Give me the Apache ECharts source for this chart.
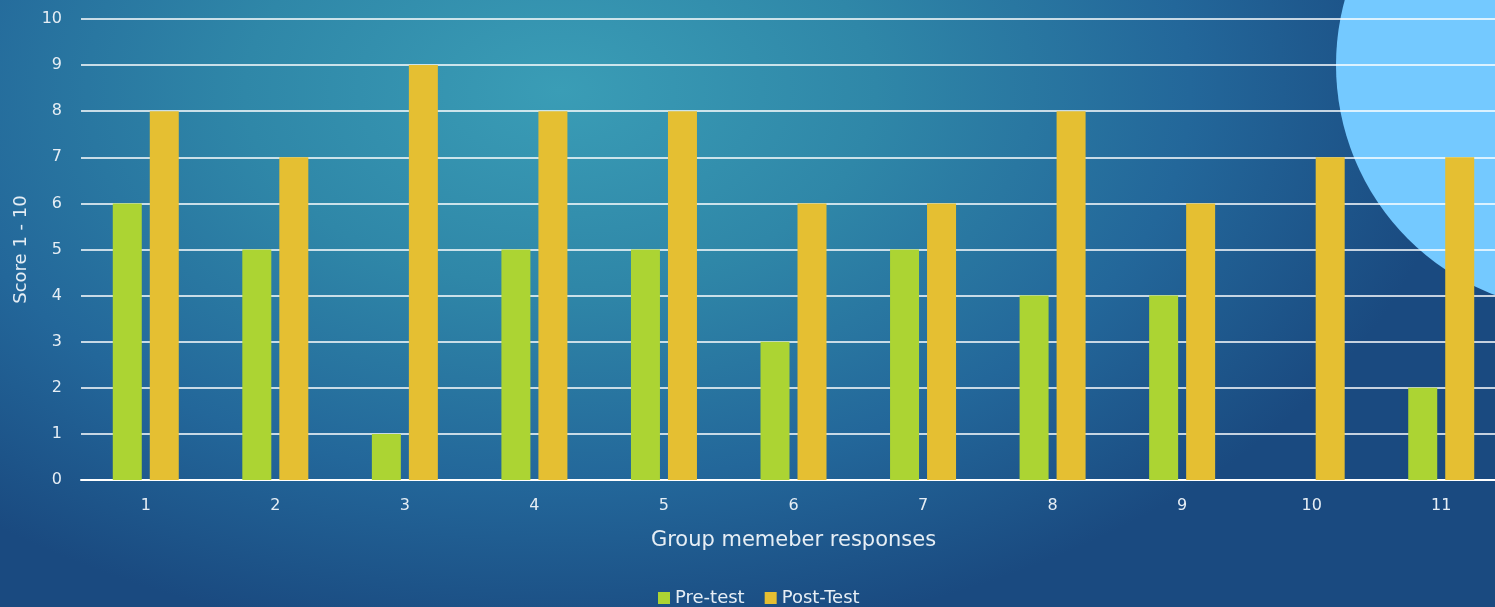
<!DOCTYPE html>
<html>
<head>
<meta charset="utf-8">
<script src="https://cdn.jsdelivr.net/npm/echarts@6/dist/echarts.min.js"></script>
<style>
  html, body { margin: 0; padding: 0; }
  body {
    width: 1495px; height: 607px; overflow: hidden;
    background: radial-gradient(ellipse 900px 560px at 560px 90px, #3a9db6 0%, #2f87a8 35%, #23679a 70%, #1a4a80 100%);
  }
  #chart { width: 1495px; height: 607px; }
</style>
</head>
<body>
<div id="chart"></div>
<script>
// Survey scores per group member, before and after
const categories = ['1', '2', '3', '4', '5', '6', '7', '8', '9', '10', '11'];
const preTest  = [6, 5, 1, 5, 5, 3, 5, 4, 4, 0, 2];
const postTest = [8, 7, 9, 8, 8, 6, 6, 8, 6, 7, 7];
const yTicks = { min: 0, max: 10, interval: 1 };

const font = '"DejaVu Sans", sans-serif';
const textColor = '#e6eef5';

const chart = echarts.init(document.getElementById('chart'), null, { renderer: 'canvas' });
chart.setOption({
  backgroundColor: 'transparent',
  animation: false,
  graphic: [{
    type: 'circle',
    z: -10,
    silent: true,
    shape: { cx: 1582, cy: 65, r: 246 },
    style: { fill: '#74c9ff' }
  }],
  grid: { left: 81, top: 19, right: -11, height: 461, containLabel: false, outerBoundsMode: 'none' },
  legend: {
    top: 584,
    left: 653,
    itemWidth: 12,
    itemHeight: 12,
    itemGap: 20,
    icon: 'rect',
    textStyle: { color: textColor, fontSize: 18, fontFamily: font },
    data: ['Pre-test', 'Post-Test']
  },
  xAxis: {
    type: 'category',
    data: categories,
    name: 'Group memeber responses',
    nameLocation: 'middle',
    nameGap: 50,
    nameTextStyle: { color: textColor, fontSize: 21, fontFamily: font },
    axisLine: { lineStyle: { color: '#ffffff', width: 2 } },
    axisTick: { show: false },
    axisLabel: { color: textColor, fontSize: 16, fontFamily: font, margin: 18 }
  },
  yAxis: {
    type: 'value',
    min: yTicks.min,
    max: yTicks.max,
    interval: yTicks.interval,
    name: 'Score 1 - 10',
    nameLocation: 'middle',
    nameGap: 50,
    nameRotate: 90,
    nameTextStyle: { color: textColor, fontSize: 18, fontFamily: font },
    axisLine: { show: false },
    axisTick: { show: false },
    axisLabel: { color: textColor, fontSize: 16, fontFamily: font, margin: 19 },
    splitLine: { lineStyle: { color: '#ffffff', width: 1.5 } }
  },
  series: [
    {
      name: 'Pre-test',
      type: 'bar',
      data: preTest,
      barWidth: 29,
      barGap: '27.6%',
      itemStyle: { color: '#acd433' }
    },
    {
      name: 'Post-Test',
      type: 'bar',
      data: postTest,
      barWidth: 29,
      itemStyle: { color: '#e5bf32' }
    }
  ]
});
</script>
</body>
</html>
